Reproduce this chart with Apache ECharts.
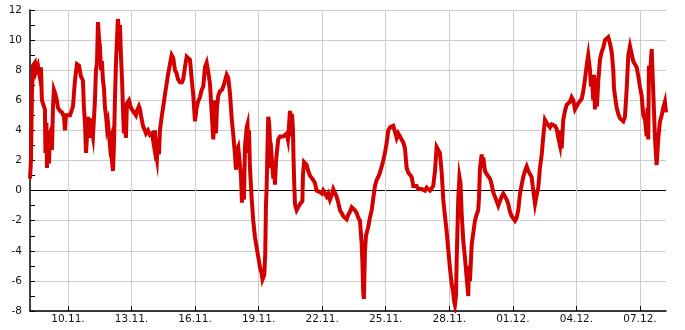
<!DOCTYPE html>
<html>
<head>
<meta charset="utf-8">
<script src="https://cdn.jsdelivr.net/npm/echarts@6/dist/echarts.min.js"></script>
<style>
html,body{margin:0;padding:0;background:#fff;}
#chart{width:685px;height:330px;}
</style>
</head>
<body>
<div id="chart"></div>
<script>
// Hours since 2023-11-08 00:00 (UTC) of each reading
const hours = [
5.0,6.1,7.2,8.3,10.6,11.7,12.9,14.0,15.1,16.3,17.4,18.5,19.7,20.8,21.9,22.5,23.6,24.2,25.3,26.5,
27.6,28.7,29.9,31.0,32.1,33.3,35.5,36.7,38.9,41.2,43.5,44.6,45.7,48.0,50.3,53.7,55.9,58.2,60.5,62.7,
65.0,66.1,67.3,68.4,69.5,70.7,71.8,72.9,74.1,75.2,76.3,78.6,79.7,80.9,82.0,83.1,84.3,85.4,86.5,87.7,
88.8,89.9,91.1,92.2,93.3,94.4,95.6,96.7,97.8,99.0,100.1,101.2,102.4,103.5,104.6,105.8,106.9,108.0,109.2,110.3,
111.4,112.6,113.7,114.8,117.1,119.4,121.6,122.8,125.0,126.2,128.4,129.6,130.7,133.0,135.2,136.4,138.6,140.9,143.2,145.4,
146.6,147.7,148.8,150.0,151.1,152.2,
154.2,156.0,157.9,159.8,161.6,163.6,165.5,167.3,169.2,171.1,172.6,174.9,177.2,178.6,180.5,182.5,184.0,186.2,188.1,190.0,
191.9,193.8,195.3,197.5,199.5,201.3,203.2,205.1,206.6,208.9,210.8,212.6,213.4,214.5,215.7,216.8,218.3,220.2,222.5,223.9,
225.9,227.8,229.6,231.5,233.5,235.3,237.2,238.3,239.5,240.9,242.9,244.0,245.1,246.3,247.4,248.5,250.5,251.4,252.3,253.1,
254.2,256.1,257.9,259.9,261.8,263.6,265.5,267.4,268.4,269.3,270.4,271.5,272.3,273.1,273.9,274.9,275.9,276.9,278.0,279.1,
280.6,281.4,282.5,283.6,284.4,286.2,288.2,291.9,293.8,295.8,297.2,298.4,299.5,
300.6,301.8,302.9,303.6,304.3,305.2,307.1,308.9,310.8,312.8,313.6,314.2,315.4,316.5,318.4,320.2,322.2,324.1,325.9,327.8,
329.7,331.6,333.5,335.8,337.2,339.2,341.1,342.9,344.8,346.8,348.6,350.5,352.4,354.2,356.2,358.1,359.9,361.8,363.7,365.6,
367.5,369.4,371.2,373.1,375.1,376.9,378.8,380.7,381.6,382.5,383.3,383.9,384.5,385.6,386.7,388.2,390.1,392.1,393.9,395.8,
397.7,399.5,401.5,403.4,405.2,407.1,409.1,410.9,412.8,414.7,416.5,418.5,420.4,422.2,424.1,426.0,427.9,429.8,431.7,433.5,
435.4,437.4,439.2,441.1,
443.0,444.8,446.8,448.7,450.5,452.4,454.4,456.2,458.1,460.0,461.8,463.8,465.7,467.5,469.4,471.4,473.2,475.1,477.0,478.8,
480.8,482.7,484.5,485.3,486.4,487.6,488.4,489.3,490.2,491.5,492.7,494.0,495.8,497.8,499.7,501.5,502.3,503.4,505.4,507.2,
509.1,511.0,512.8,513.6,514.8,516.7,517.6,518.5,520.4,522.3,526.1,528.0,529.8,531.7,533.7,535.5,537.4,539.3,541.2,543.1,
545.0,546.8,548.7,550.7,552.5,554.4,556.3,558.1,560.1,562.0,563.8,565.7,567.7,569.5,571.4,573.3,575.1,577.1,579.0,580.8,
582.7,584.7,586.5,588.4,
590.3,592.1,594.1,596.0,597.8,599.7,601.6,603.5,605.4,606.5,607.3,609.1,611.1,613.0,614.8,616.7,618.6,620.5,622.4,624.3,
626.1,628.0,630.0,631.8,633.7,635.6,637.4,639.4,640.5,641.6,643.1,643.9,645.0,646.2,647.3,648.8,650.7,652.6,654.4,656.4,
658.3,660.1,662.0,664.0,665.8,666.6,667.7,669.6,671.4,673.4,675.3,677.1,679.0,681.0,682.8,684.7,686.6,688.4,690.4,692.3,
694.1,696.0,697.9,699.8,701.7,703.6,704.5,705.4,706.2,707.3,709.3,711.1,713.0,714.9,716.8,718.7,720.6,722.4,724.3,725.5
];

// Readings
const values = [
0.8,2.0,6.5,8.3,8.5,7.9,7.8,8.3,8.2,7.5,8.2,6.0,5.8,5.7,5.4,2.5,4.5,1.5,3.0,1.8,
3.8,4.0,2.7,5.5,6.7,6.5,6.0,5.5,5.3,5.2,4.9,4.0,5.0,5.0,5.0,5.6,7.3,8.4,8.3,7.6,
7.3,5.5,4.5,2.5,3.5,4.9,5.0,3.5,4.8,4.0,3.6,6.0,8.0,8.5,11.2,10.2,9.5,8.0,8.6,7.3,
6.8,5.5,5.0,4.2,4.5,3.8,3.0,3.3,2.0,1.3,3.0,6.0,8.5,10.0,11.4,10.5,11.0,9.0,7.5,5.5,
3.8,4.5,3.5,5.8,6.0,5.5,5.3,5.2,5.0,5.3,5.6,5.4,5.0,4.3,4.0,3.8,4.0,3.7,3.8,3.0,
4.0,2.5,2.1,3.5,2.4,4.0,
4.9,5.6,6.4,7.1,7.8,8.4,9.0,8.8,8.0,7.8,7.4,7.2,7.2,7.4,8.2,8.9,8.8,8.7,7.5,6.3,
4.6,5.5,5.9,6.2,6.7,6.9,8.2,8.5,8.0,7.1,5.2,3.4,4.2,6.0,3.8,5.5,6.3,6.6,6.7,6.9,
7.3,7.7,7.5,6.5,4.8,3.7,2.4,1.4,2.7,2.9,2.8,1.0,-0.8,0.8,-0.6,2.9,4.2,4.4,2.5,4.0,
1.5,-0.5,-2.0,-3.1,-3.8,-4.4,-5.1,-5.5,-5.9,-6.0,-5.6,-4.2,-1.0,0.2,2.5,4.9,4.5,3.3,1.5,2.0,
0.8,1.8,0.4,1.8,2.4,3.4,3.6,3.6,3.5,3.8,3.4,4.3,5.3,
4.6,5.1,4.0,2.0,0.5,-0.9,-1.3,-1.2,-0.9,-1.0,-0.7,1.0,1.9,2.0,1.7,1.3,1.0,0.9,0.7,0.5,
0.0,-0.1,-0.1,-0.2,0.0,-0.2,-0.4,-0.2,-0.6,-0.3,0.1,0.0,-0.4,-0.8,-1.3,-1.5,-1.7,-1.8,-1.9,-1.6,
-1.4,-1.1,-1.2,-1.3,-1.5,-1.8,-2.0,-3.5,-4.8,-6.8,-7.2,-5.5,-4.0,-3.0,-3.0,-2.4,-1.8,-1.3,-0.5,0.3,
0.7,0.9,1.2,1.6,2.0,2.5,3.2,4.0,4.2,4.1,4.3,3.9,3.5,3.8,3.6,3.5,3.2,2.8,1.5,1.2,
1.3,0.9,0.3,0.2,
0.3,0.1,0.2,0.1,0.2,0.0,0.2,0.1,0.0,-0.1,0.3,1.3,2.9,2.8,2.5,1.2,-0.6,-1.7,-2.7,-3.9,
-5.2,-6.2,-6.8,-7.3,-7.6,-7.0,-4.5,-2.5,-0.5,0.9,0.5,-1.5,-3.3,-4.5,-5.8,-7.0,-5.0,-6.0,-3.6,-2.8,
-2.0,-1.6,-1.3,-0.5,1.5,2.4,1.5,2.2,1.3,1.1,0.8,0.4,-0.1,-0.4,-0.7,-1.0,-0.7,-0.4,-0.2,-0.3,
-0.6,-0.9,-1.4,-1.7,-1.8,-2.0,-1.8,-1.3,-0.2,0.4,0.9,1.3,1.6,1.3,1.2,0.9,0.0,-0.9,-0.3,0.2,
1.5,2.4,3.6,4.7,
4.5,4.5,4.2,4.4,4.4,4.3,4.1,3.5,3.0,4.0,2.8,4.7,5.3,5.7,5.7,5.9,6.2,6.0,5.4,5.6,
5.8,5.9,6.1,6.6,7.4,8.3,9.0,8.0,6.9,7.5,6.0,7.7,5.4,7.5,5.6,7.3,8.7,9.2,9.5,10.0,
10.1,10.2,9.8,9.2,8.0,6.8,6.3,5.5,5.1,4.8,4.7,4.6,4.9,6.8,9.0,9.6,9.5,8.6,8.7,8.2,
7.6,6.9,6.3,5.0,4.7,3.6,5.5,3.4,8.3,7.7,9.4,6.5,3.5,1.7,3.5,4.6,5.0,5.5,5.9,5.2
];

const tickDates = ['2023-11-10','2023-11-13','2023-11-16','2023-11-19','2023-11-22',
                   '2023-11-25','2023-11-28','2023-12-01','2023-12-04','2023-12-07'];
const rangeStartHour = 5.0;
const rangeEndHour = 725.5;
const yTicks = [-8, 12, 2];

const t0 = Date.UTC(2023, 10, 8, 0, 0, 0);
const H = 3600 * 1000;
const seriesData = hours.map((h, i) => [h, values[i]]);
const tickHours = tickDates.map(d => (Date.parse(d + 'T00:00:00Z') - t0) / H);
const pad = n => (n < 10 ? '0' : '') + n;

// grid line colours: zero line black, others light grey
const yLineColors = [];
for (let v = yTicks[0]; v <= yTicks[1]; v += yTicks[2]) yLineColors.push(v === 0 ? '#000000' : '#cccccc');

const font = { fontFamily: 'DejaVu Sans', fontSize: 10.5, color: '#111111' };

const chart = echarts.init(document.getElementById('chart'), null, { renderer: 'canvas' });
chart.setOption({
  animation: false,
  backgroundColor: '#ffffff',
  grid: { left: 30, right: 19, top: 10, bottom: 19, containLabel: false, outerBoundsMode: 'none' },
  xAxis: {
    type: 'value',
    min: rangeStartHour,
    max: rangeEndHour,
    axisLine: { onZero: false, lineStyle: { color: '#000', width: 1.5 } },
    axisTick: { show: true, inside: true, length: 5, customValues: tickHours, lineStyle: { color: '#000' } },
    axisLabel: Object.assign({ margin: 3, customValues: tickHours, hideOverlap: false,
      formatter: v => { const d = new Date(t0 + v * H); return pad(d.getUTCDate()) + '.' + pad(d.getUTCMonth() + 1) + '.'; } }, font),
    splitLine: { show: true, lineStyle: { color: '#cccccc', width: 1 } },
    minorTick: { show: false }
  },
  yAxis: {
    type: 'value',
    min: yTicks[0], max: yTicks[1], interval: yTicks[2],
    axisLine: { show: true, lineStyle: { color: '#000', width: 1.5 } },
    axisTick: { show: true, inside: true, length: 5, lineStyle: { color: '#000' } },
    minorTick: { show: true, splitNumber: 2, length: 5, lineStyle: { color: '#000' } },
    axisLabel: Object.assign({ margin: 8 }, font),
    splitLine: { show: true, showMinLine: true, showMaxLine: true, lineStyle: { color: yLineColors, width: 1 } }
  },
  series: [{
    type: 'line',
    data: seriesData,
    showSymbol: false,
    symbol: 'none',
    sampling: null,
    lineStyle: { color: '#d40000', width: 4, join: 'miter' },
    z: 3
  }]
});
</script>
</body>
</html>
